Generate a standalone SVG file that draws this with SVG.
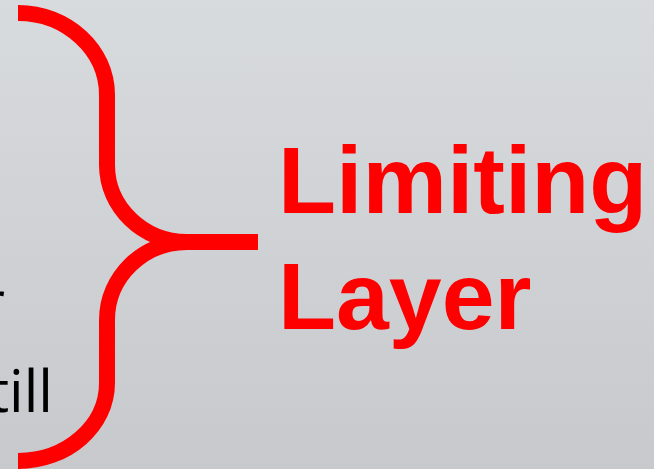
<svg xmlns="http://www.w3.org/2000/svg" width="654" height="469" viewBox="0 0 654 469">
  <defs>
    <linearGradient id="bg" x1="0" y1="0" x2="0" y2="1">
      <stop offset="0" stop-color="#d8dbde"/>
      <stop offset="1" stop-color="#c7c9cc"/>
    </linearGradient>
    <style>
      .brace { fill: none; stroke: #ff0000; stroke-width: 16; stroke-linecap: butt; stroke-linejoin: miter; }
      .label { font-family: "Liberation Sans", Arial, sans-serif; font-weight: bold; font-size: 95px; fill: #ff0000; }
      .body { font-family: "Open Sans", "Noto Sans", sans-serif; font-size: 58px; fill: #000000; }
    </style>
  </defs>
  <rect width="654" height="469" fill="url(#bg)"/>
  <g id="left-text">
    <text class="body" x="5" y="323" text-anchor="end">r</text>
    <text class="body" x="53" y="412" text-anchor="end">till</text>
  </g>
  <g id="connectors">
    <path class="brace" d="M18,13 C67,13 107,50 107,95 L107,165 C107,207 143,242 187,242 L258,242"/>
    <path class="brace" d="M187,242 C143,242 107,277 107,320 L107,383 C107,426 67,461 18,461"/>
  </g>
  <g id="limiting-layer">
    <text class="label" x="278" y="213">Limiting</text>
    <text class="label" x="278" y="329">Layer</text>
  </g>
</svg>
